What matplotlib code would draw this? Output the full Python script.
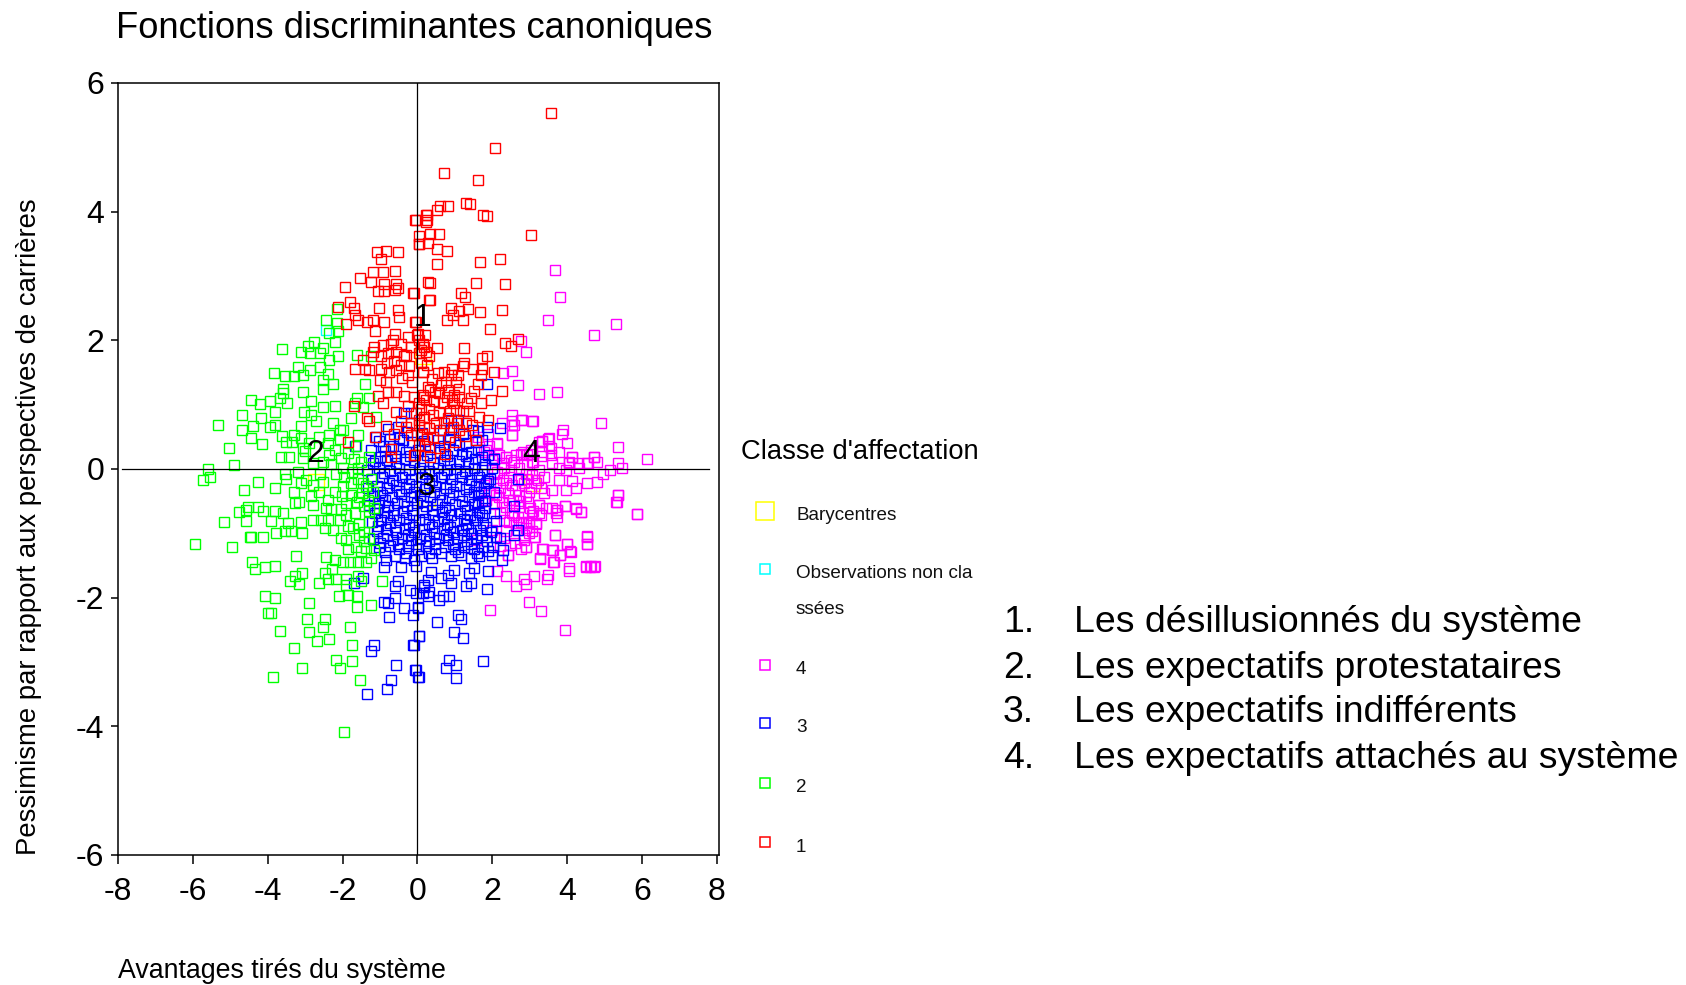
import matplotlib
matplotlib.use("Agg")
import matplotlib.pyplot as plt
from matplotlib.lines import Line2D

plt.rcParams['font.family'] = ['Liberation Sans', 'DejaVu Sans']
plt.rcParams['axes.unicode_minus'] = False

TITLE = "Fonctions discriminantes canoniques"
XLABEL = "Avantages tirés du système"
YLABEL = "Pessimisme par rapport aux perspectives de carrières"
LEGEND_TITLE = "Classe d'affectation"
TYPOLOGY = ["Les désillusionnés du système", "Les expectatifs protestataires",
            "Les expectatifs indifférents", "Les expectatifs attachés au système"]
X_TICKS = [-8, -6, -4, -2, 0, 2, 4, 6, 8]
Y_TICKS = [-6, -4, -2, 0, 2, 4, 6]

barycentres = [(0.14, 1.75), (-2.7, -0.2), (0.25, -0.45), (3.07, -0.22)]
unclassified = [(-2.44, 2.16)]
centroid_labels = [("1", 0.15, 2.35), ("2", -2.72, 0.24), ("3", 0.26, -0.28), ("4", 3.05, 0.23)]

class1 = [
(3.58,5.53),(2.08,4.99),(.71,4.60),(1.62,4.49),(1.30,4.14),(1.40,4.12),(.81,4.09),(.60,4.09),(.52,4.02),(.26,3.95),
(.26,3.87),(-.04,3.87),(1.76,3.95),(1.85,3.93),(3.04,3.64),(.59,3.66),(.34,3.66),(.04,3.62),(.29,3.52),(.04,3.50),
(.52,3.42),(.80,3.39),(.52,3.19),(1.67,3.21),(2.21,3.26),(.34,2.89),(1.57,2.89),(2.35,2.87),(-.08,2.73),(1.16,2.73),
(1.26,2.68),(.34,2.63),(.90,2.51),(1.36,2.49),(1.12,2.45),(.94,2.39),(.8,2.31),(1.21,2.31),(1.67,2.44),(2.26,2.47),
(-.04,2.28),(1.94,2.18),(2.35,1.96),(2.68,2.02),(2.49,1.91),(1.25,1.88),(.52,1.88),(.21,2.09),(0,2.09),(.04,2.0),
(.19,1.90),(.23,1.82),(.32,1.75),(.05,1.80),(1.85,1.75),(1.74,1.72),(1.25,1.64),(1.21,1.60),(.92,1.55),(.70,1.51),
(.14,1.51),(1.48,1.56),(1.74,1.55),(2.05,1.51),(1.70,1.46),(1.08,1.46),(.9,1.46),(.76,1.36),(1.03,1.36),(1.61,1.32),
(1.12,1.25),(2.26,1.22),(.34,1.23),(.14,1.15),(.59,1.18),(.81,1.23),(.99,1.15),(1.12,1.12),(1.43,1.11),(1.98,1.08),
(1.71,1.03),(.05,1.02),(.32,.94),(.68,1.02),(.99,1.02),(1.03,.92),(1.39,.90),(1.21,.90),(1.65,.81),(1.88,.76),
(.81,.79),(.41,.84),(.19,.81),(.50,.71),(.32,.63),(.05,.68),(1.12,.61),(.26,.46),(0,.53),(1.56,.45),(.57,.33),
(.74,.23),(-.08,.21),(.23,3.95),(-.06,3.87),(.23,3.84),(.04,3.50),
(-1.07,3.37),(-.84,3.39),(-.52,3.37),(-.98,3.26),(-.61,3.08),(-.92,3.06),(-1.19,3.06),(-1.52,2.97),(-1.94,2.83),
(-1.23,2.91),(-.88,2.88),(-.57,2.88),(-.52,2.81),(-.88,2.76),(-1.06,2.76),(-.61,2.78),(-.11,2.73),(.28,2.90),(.32,2.63),
(-2.12,2.52),(-1.80,2.60),(-1.70,2.5),(-1.68,2.39),(-1.90,2.25),(-1.59,2.31),(-1.03,2.51),(-.52,2.47),(-.48,2.36),
(-1.35,2.28),(-1.19,2.31),(-.88,2.28),(-1.12,2.15),(-.06,2.28),(-.61,2.10),(-.66,2.0),(-.26,2.05),(.01,2.10),
(-1.15,1.90),(-.92,1.92),(-.70,1.95),(-1.19,1.82),(-1.46,1.70),(-.97,1.75),(-.57,1.82),(-.30,1.77),(-.17,1.90),
(.10,1.85),(.14,1.95),(-.35,1.75),(-1.68,1.56),(-1.41,1.55),(-1.28,1.54),(-.97,1.56),(-.75,1.51),(-.26,1.46),
(.14,1.51),(.10,1.64),(-1.01,1.38),(-.84,1.36),(-.57,1.54),(-.79,1.20),(-1.06,1.13),(-.57,1.20),(-.35,1.13),
(-.08,1.12),(.14,1.12),(-.93,1.03),(.10,.94),(-.57,.89),(-1.70,.98),(-1.35,.80),(-1.28,.75),(-.84,.67),(-.30,.65),
(.05,.76),(-.17,.53),(-1.12,.49),(-.70,.31),(-1.85,.42),(-.06,.21),(-.70,.19),(-.04,.87),(.23,1.07),(.19,.66),
(-.45,1.62),(-.82,1.65),(-.15,1.35),(.38,1.40),(.55,1.50),(.62,1.30),(.45,1.05),(.88,.90),(.60,.60),(.85,.50),
(.95,.66),(-.25,.98),(.20,.35),(.42,.50),(1.30,.72),(1.45,.68),(-.45,.75),(-.62,.55),(.05,.38),
(.58,.88),(.72,.72),(.28,1.28),(.48,1.20),(.92,1.08),(1.32,1.02),(1.52,1.22),(-.18,.72),(.12,.55),(.78,1.12),
(1.05,.72),(1.28,.52),(.35,.18),(1.0,.42),(-.42,1.42),(-.62,1.68),(-.22,1.60),(.25,1.62),(-.78,1.8),(-.45,1.95),
]

class2 = [
(-2.14,2.48),(-2.45,2.31),(-2.35,2.11),(-2.14,2.27),(-2.12,2.15),(-2.21,1.98),(-3.63,1.86),(-3.12,1.82),(-2.88,1.81),
(-2.92,1.91),(-2.77,1.97),(-2.52,1.88),(-2.61,1.80),(-2.35,1.69),(-2.12,1.75),(-1.62,1.77),(-1.24,1.76),(-3.19,1.59),
(-3.82,1.50),(-3.54,1.45),(-3.29,1.45),(-3.06,1.46),(-2.88,1.54),(-2.61,1.59),(-2.39,1.48),(-2.52,1.38),(-2.26,1.32),
(-2.52,1.25),(-3.06,1.20),(-3.59,1.24),(-3.59,1.18),(-3.68,1.11),(-1.39,1.32),(-4.44,1.08),(-4.21,1.01),(-3.95,1.05),
(-3.48,1.03),(-2.84,1.05),(-1.62,1.11),(-1.28,1.10),(-2.52,.97),(-2.19,.98),(-1.68,1.03),(-1.46,.97),(-4.68,.84),
(-3.80,.89),(-3.03,.89),(-2.84,.84),(-2.70,.75),(-4.17,.79),(-1.77,.80),(-2.26,.71),(-1.10,.81),(-5.32,.68),(-4.68,.61),
(-4.38,.67),(-3.81,.68),(-3.95,.66),(-3.10,.67),(-2.08,.61),(-1.99,.61),(-1.59,.53),(-2.35,.53),(-4.44,.48),(-4.15,.39),
(-5.04,.33),(-3.63,.51),(-3.29,.53),(-3.50,.42),(-3.34,.42),(-3.10,.48),(-3.06,.32),(-2.63,.49),(-2.39,.40),(-2.08,.46),
(-1.64,.35),(-3.65,.18),(-3.44,.18),(-4.91,.06),(-5.59,0),(-3.06,.17),(-2.79,.09),(-2.35,.22),(-2.04,.17),(-1.50,.11),
(-1.28,.19),(-2.52,.11),(-3.0,.28),(-2.9,.40),(-2.2,.30),(-1.85,.25),(-1.7,.15),
(-5.72,-.17),(-5.55,-.12),(-4.27,-.20),(-4.64,-.33),(-3.81,-.30),(-3.55,-.07),(-3.50,-.15),(-3.19,-.04),(-3.10,-.22),
(-2.97,-.17),(-2.61,-.07),(-2.52,-.20),(-2.79,-.25),(-2.17,-.07),(-1.95,-.12),(-1.59,-.15),(-2.21,-.35),(-1.99,-.27),
(-1.77,-.40),(-1.37,-.27),(-1.19,-.35),(-1.55,-.43),(-1.90,-.53),(-2.79,-.56),(-3.15,-.51),(-3.28,-.53),(-3.59,-.69),
(-3.81,-.65),(-4.12,-.66),(-4.26,-.59),(-4.52,-.59),(-4.57,-.64),(-4.76,-.67),(-4.59,-.81),(-5.17,-.83),(-3.90,-.81),
(-3.45,-.84),(-3.10,-.83),(-2.79,-.80),(-2.57,-.79),(-2.39,-.79),(-2.08,-.79),(-2.48,-.92),(-2.26,-.95),(-3.77,-.99),
(-3.55,-.96),(-3.37,-.97),(-3.08,-.99),(-4.12,-1.05),(-4.48,-1.06),(-4.44,-1.06),(-5.95,-1.16),(-4.95,-1.21),(-2.04,-1.08),
(-1.90,-1.10),(-1.55,-1.03),(-1.30,-.82),(-1.15,-.61),(-1.28,-1.08),(-1.64,-1.22),(-1.86,-1.25),(-1.37,-1.23),(-1.15,-1.26),
(-3.25,-1.35),(-2.44,-1.37),(-2.21,-1.41),(-1.99,-1.44),(-1.81,-1.44),(-1.59,-1.44),(-1.37,-1.44),(-4.41,-1.45),(-4.35,-1.55),
(-4.08,-1.53),(-3.81,-1.50),(-2.28,-1.55),(-2.48,-1.61),(-3.08,-1.61),(-3.28,-1.66),(-3.41,-1.74),(-3.17,-1.79),(-2.63,-1.77),
(-2.39,-1.71),(-2.17,-1.71),(-1.90,-1.71),(-1.59,-1.66),(-1.50,-1.74),(-.94,-1.74),(-1.90,-1.80),(-4.08,-1.98),(-3.81,-2.0),
(-2.90,-2.09),(-2.10,-1.98),(-1.86,-1.96),(-1.62,-1.98),(-1.62,-2.14),(-1.25,-2.11),(-3.99,-2.24),(-3.90,-2.24),(-2.94,-2.33),
(-2.48,-2.33),(-2.52,-2.46),(-2.90,-2.54),(-3.68,-2.52),(-1.81,-2.46),(-2.35,-2.64),(-2.68,-2.67),(-3.31,-2.78),(-1.76,-2.73),
(-2.17,-2.97),(-1.76,-2.99),(-2.08,-3.10),(-3.08,-3.10),(-3.86,-3.23),(-1.53,-3.28),(-1.95,-4.09),
(-2.85,-.42),(-2.4,-.48),(-2.05,-.62),(-1.68,-.68),(-1.42,-.58),(-1.25,-.15),(-1.75,-.05),(-2.3,-.62),(-1.55,-.85),(-1.85,-.88),
(-1.45,-.22),(-1.32,-.48),(-1.48,-.38),(-1.62,-.52),(-1.28,-.65),(-1.78,-.22),(-2.02,-.42),(-1.92,-.72),(-1.72,-.92),(-1.42,-.98),
(-1.6,.02),(-2.0,.02),(-2.3,.08),(-3.3,-.35),(-2.62,-.35),(-2.45,-.6),(-1.42,-1.12),(-1.25,-1.38),(-1.5,-1.28),
]

class3 = [
(1.86,1.32),(.9,.76),(1.08,.76),(.9,.6),(1.48,.61),(1.86,.66),(2.21,.63),(2.04,.16),(1.56,.42),(.72,.35),(1.12,.37),(1.43,.27),
(-.35,.87),(-.17,.87),(-.52,.66),(-1.1,.5),(-1.68,.35),(-.39,.45),(-.66,.35),(-.92,.35),(-1.01,.19),(-1.19,.09),
(-1.35,-3.50),(-.80,-3.42),(-.70,-3.28),(-.57,-3.04),(-.06,-3.12),(.03,-3.23),(-1.25,-2.83),(-1.17,-2.73),(-.11,-2.73),
(.03,-2.59),(-.75,-2.30),(-.11,-2.27),(-.35,-2.16),(.01,-2.16),(-.88,-2.06),(-.79,-2.09),(-.61,-2.0),(-.21,-1.88),(-.04,-1.92),
(-.61,-1.82),(-.51,-1.74),(-1.46,-1.69),(-1.70,-1.77),(-.44,-1.53),(-.88,-1.53),(-.84,-1.41),(-.08,-1.41),(-.04,-1.51),
(.19,-1.83),(.14,-1.93),(.28,-1.73),
(1.76,-2.99),(.85,-2.97),(1.03,-3.04),(.76,-3.10),(1.03,-3.25),(-.04,-3.12),(.01,-3.23),(1.21,-2.62),(.99,-2.54),(.52,-2.38),
(1.08,-2.27),(1.16,-2.33),(.03,-2.59),(-.08,-2.73),(.85,-1.97),(.59,-2.03),(.68,-1.98),(.28,-1.98),(1.86,-1.87),(1.30,-1.82),
(1.43,-1.77),(.90,-1.77),(.36,-1.60),(.81,-1.64),(1.39,-1.61),(1.52,-1.54),(1.89,-1.58),(.99,-1.57),(2.25,-1.41),(.19,-1.80),
(.32,-1.91),(.01,-2.14),(.63,-1.70),(2.68,-.95),(2.59,-1.03),(2.30,-1.26),(2.10,-1.05),(2.21,-1.08),(2.59,-.57),(2.68,-.15),
(1.95,-.15),(2.04,-.36),(1.81,-.49),(1.61,-.53),(2.05,-.69),(2.10,-.81),(1.74,-.72),(1.70,-.35),
# dense core, row by row
(-.78,.62),(-.28,.58),(.12,.56),(.68,.61),(1.22,.55),(1.62,.59),
(-1.02,.44),(-.72,.46),(-.48,.48),(-.14,.42),(.18,.44),(.56,.45),(.88,.47),(1.3,.41),(1.72,.45),
(-1.25,.3),(-.86,.28),(-.5,.31),(-.3,.27),(.02,.29),(.34,.31),(.6,.26),(.95,.3),(1.2,.24),(1.62,.3),(1.9,.22),
(-1.12,.12),(-.8,.14),(-.58,.1),(-.34,.15),(-.1,.11),(.16,.13),(.42,.1),(.7,.14),(.88,.09),(1.12,.13),(1.36,.1),(1.55,.15),(1.8,.08),
(-1.34,-.02),(-1.02,.01),(-.74,-.03),(-.48,.02),(-.22,-.02),(.08,.01),(.3,-.03),(.55,.02),(.8,-.02),(1.02,.0),(1.28,-.03),(1.5,.01),(1.72,-.02),(2.0,.02),
(-1.2,-.15),(-.94,-.12),(-.66,-.17),(-.4,-.13),(-.16,-.16),(.12,-.12),(.4,-.17),(.62,-.13),(.92,-.16),(1.18,-.12),(1.44,-.17),(1.66,-.13),(1.9,-.18),
(-1.32,-.29),(-1.08,-.26),(-.82,-.3),(-.56,-.25),(-.3,-.3),(-.05,-.27),(.2,-.31),(.48,-.26),(.76,-.3),(1.02,-.27),(1.3,-.31),(1.56,-.26),(1.78,-.3),
(-1.16,-.42),(-.94,-.4),(-.68,-.44),(-.44,-.39),(-.18,-.44),(.06,-.4),(.34,-.44),(.6,-.39),(.84,-.45),(1.12,-.41),(1.38,-.44),(1.62,-.41),
(-1.28,-.56),(-1.02,-.53),(-.78,-.57),(-.54,-.53),(-.28,-.58),(-.02,-.53),(.24,-.58),(.52,-.54),(.74,-.59),(1.0,-.54),(1.26,-.58),(1.5,-.55),(1.82,-.6),
(-1.14,-.69),(-.9,-.67),(-.64,-.71),(-.38,-.67),(-.12,-.71),(.14,-.67),(.42,-.72),(.66,-.67),(.9,-.72),(1.14,-.68),(1.4,-.72),(1.66,-.67),
(-1.22,-.83),(-.98,-.8),(-.74,-.84),(-.48,-.8),(-.22,-.85),(.04,-.8),(.3,-.85),(.56,-.81),(.8,-.86),(1.06,-.81),(1.3,-.85),(1.54,-.8),(1.76,-.84),
(-1.08,-.96),(-.84,-.94),(-.58,-.98),(-.32,-.94),(-.08,-.98),(.18,-.94),(.44,-.99),(.7,-.94),(.94,-.98),(1.18,-.95),(1.44,-.99),(1.68,-.95),(1.96,-.98),
(-1.18,-1.09),(-.92,-1.07),(-.66,-1.11),(-.42,-1.07),(-.18,-1.11),(.06,-1.07),(.32,-1.12),(.58,-1.08),(.82,-1.11),(1.06,-1.08),(1.32,-1.12),(1.56,-1.08),(1.86,-1.12),
(-1.02,-1.22),(-.74,-1.2),(-.5,-1.24),(-.24,-1.2),(.02,-1.24),(.22,-1.2),(.48,-1.25),(.74,-1.21),(1.0,-1.25),(1.24,-1.21),(1.5,-1.24),(1.72,-1.22),(2.02,-1.22),
(-.6,-1.36),(-.34,-1.38),(.1,-1.35),(.4,-1.38),(.9,-1.36),(1.16,-1.34),(1.42,-1.38),(1.66,-1.35),(2.0,-1.33),
# second pass through the core
(-.6,.2),(-.2,.2),(.26,.22),(.78,.2),(1.3,.2),(1.72,.18),(-.9,-.06),(-.34,-.07),(.2,-.08),(.7,-.07),(1.14,-.06),(1.6,-.07),
(-.76,-.22),(-.22,-.23),(.3,-.22),(.86,-.23),(1.38,-.24),(1.84,-.22),(-1.0,-.35),(-.5,-.34),(-.1,-.36),(.44,-.35),(.96,-.36),(1.5,-.35),
(-.86,-.48),(-.36,-.49),(.16,-.5),(.66,-.48),(1.2,-.5),(1.72,-.5),(-1.08,-.62),(-.62,-.63),(-.14,-.64),(.38,-.63),(.84,-.64),(1.32,-.63),
(-.82,-.75),(-.3,-.76),(.2,-.77),(.72,-.76),(1.24,-.77),(1.6,-.75),(-1.04,-.89),(-.6,-.9),(-.12,-.9),(.38,-.9),(.88,-.9),(1.36,-.91),(1.84,-.9),
(-.8,-1.02),(-.26,-1.03),(.24,-1.03),(.76,-1.03),(1.24,-1.02),(1.74,-1.03),(-1.0,-1.15),(-.52,-1.16),(-.04,-1.16),(.46,-1.16),(.96,-1.17),(1.44,-1.16),
(-.86,-1.29),(-.3,-1.3),(.3,-1.3),(.64,-1.3),(1.08,-1.29),(1.58,-1.3),(1.9,-1.28),
]

class4 = [
(3.68,3.10),(3.81,2.68),(3.49,2.31),(4.73,2.09),(5.32,2.25),(2.76,1.99),(2.90,1.82),(2.54,1.53),(2.30,1.49),(2.70,1.30),
(3.26,1.16),(3.72,1.19),(2.54,.84),(2.25,.71),(2.54,.75),(2.59,.68),(2.79,.76),(3.08,.74),(4.91,.71),(2.54,.53),(1.61,.50),
(1.88,.55),(2.14,.39),(3.34,.44),(3.49,.46),(3.90,.61),(3.86,.54),(3.99,.41),(3.56,.32),(5.36,.34),(2.76,.24),(3.34,.20),
(2.36,.19),(1.83,.30),(4.12,.18),(4.73,.18),(6.14,.15),(5.37,.10),(4.81,.11),(4.54,.09),(4.28,.09),(4.05,.11),(2.99,.24),
(3.08,.11),(2.59,.11),(1.99,.14),(3.56,.22),
(5.48,.01),(5.16,-.02),(4.97,-.08),(4.81,-.20),(4.54,-.22),(4.23,-.30),(4.14,-.19),(3.96,-.33),(3.61,-.33),(3.30,-.30),(3.03,-.30),
(5.34,-.52),(5.37,-.41),(5.87,-.70),(4.36,-.67),(4.23,-.61),(3.95,-.57),(3.70,-.69),(3.74,-.63),(3.61,-.61),(3.25,-.56),(3.25,-.69),
(3.07,-.72),(2.99,-.84),(3.16,-.85),(2.81,-.84),(3.68,-1.03),(3.14,-1.05),(2.99,-1.0),(4.54,-1.04),(4.54,-1.16),(3.99,-1.16),
(4.10,-1.29),(3.81,-1.34),(3.27,-1.40),(3.63,-1.26),(3.36,-1.25),(3.63,-1.45),(2.90,-1.22),(2.41,-1.34),(2.32,-1.08),(4.04,-1.54),
(4.50,-1.50),(4.63,-1.50),(4.75,-1.50),
(2.54,.68),(2.76,.76),(3.07,.74),(2.54,.53),(2.14,.40),(3.52,.48),(3.34,.44),(3.79,.27),(2.81,.27),(3.03,.30),(3.34,.27),(4.14,.19),
(4.72,.18),(4.56,.09),(4.32,.01),(4.05,.09),(3.79,.01),(3.61,.09),(3.07,.11),(2.50,.14),(2.28,.09),(1.92,.35),(1.79,.27),(2.36,.19),
(2.72,.01),(3.25,-.02),(3.96,-.02),(2.90,-.07),(2.54,-.25),(2.28,-.17),(1.79,-.25),(2.45,-.12),(2.85,-.22),(3.21,-.17),(3.79,-.17),
(2.41,-.38),(2.10,-.22),(2.72,-.40),(2.99,-.35),(2.36,-.59),(2.72,-.59),(2.54,-.69),(2.32,-.79),(2.81,-.69),(2.19,-.43),(1.92,-.38),
(1.83,-.48),(2.90,-.92),(3.07,-.97),(2.85,-1.03),(2.63,-.84),(2.45,-.82),(2.36,-.97),(1.57,-1.10),(2.94,-.15),(3.07,-.09),(2.76,-.17),
(3.16,-.22),(3.39,-.12),(2.14,-.04),(2.32,.01),(2.05,.17),(2.63,.22),(2.94,.22),(3.52,.35),(3.25,.42),
(1.95,-2.19),(2.99,-2.06),(3.31,-2.20),(3.95,-2.51),(2.36,-1.66),(2.64,-1.82),(2.85,-1.71),(2.90,-1.79),(3.12,-1.66),(3.49,-1.64),
(3.46,-1.71),(4.04,-1.58),(4.50,-1.53),(4.61,-1.53),(4.72,-1.53),(3.27,-1.39),(3.64,-1.44),(3.81,-1.34),(4.08,-1.28),(3.61,-1.26),
(3.34,-1.25),(3.99,-1.16),(4.54,-1.05),(4.54,-1.16),(3.68,-1.02),(2.41,-1.34),(2.90,-1.21),(3.12,-1.05),(2.85,-1.10),(2.14,-1.59),
(5.87,-.70),(5.32,-.52),(5.37,-.40),(4.36,-.67),(4.23,-.62),(3.95,-.57),(3.73,-.64),(3.73,-.74),(3.25,-.56),(3.30,-.72),(3.08,-.66),
(2.99,-.82),(3.16,-.84),(2.76,-.82),(2.59,-.72),(2.2,-.68),(2.45,-.48),(2.05,-.55),(2.0,-.95),(2.2,-1.2),(2.62,-1.15),
(2.2,-.3),(2.38,-.22),(2.6,-.32),(2.75,-.5),(2.55,-.48),(2.25,-.52),(2.65,-.95),(2.78,-1.25),(2.48,-1.18),(2.05,-.08),(2.18,.22),
(2.5,-.02),(2.92,.08),(3.38,-.38),(2.1,-.4),(3.45,-.6),(2.95,-.52),(2.7,-.75),(3.02,-.6),(2.9,-.42),
]

W, H = 1686, 985
fig = plt.figure(figsize=(W / 100, H / 100), dpi=100)
L, R, T, B = 118, 719, 83, 855
ax = fig.add_axes([L / W, 1 - B / H, (R - L) / W, (B - T) / H])
ax.set_xlim(-8, 8.06)
ax.set_ylim(-6, 6)

MS, MEW = 7.5, 1.0


def draw(points, color, size=MS, z=2):
    ax.plot([p[0] for p in points], [p[1] for p in points], ls='none', marker='s',
            mfc='none', mec=color, ms=size, mew=MEW, zorder=z, clip_on=False)


draw(barycentres, '#ffff00', 12, 1.5)
draw(unclassified, '#00ffff', MS, 1.6)
draw(class4, '#ff00ff', MS, 2)
draw(class3, '#0000ff', MS, 2.1)
draw(class2, '#00ff00', MS, 2.2)
draw(class1, '#ff0000', MS, 2.3)

ax.axvline(0, color='black', lw=0.9, zorder=3)
ax.plot([-7.89, 7.80], [0, 0], color='black', lw=0.9, zorder=3)

for label, x, y in centroid_labels:
    ax.text(x, y, label, fontsize=23, ha='center', va='center', color='black', zorder=4)

ax.set_xticks(X_TICKS)
ax.set_yticks(Y_TICKS)
ax.tick_params(axis='x', length=6.5, width=1.1, labelsize=23, pad=9)
ax.tick_params(axis='y', length=5, width=1.1, labelsize=23, pad=5)
for s in ax.spines.values():
    s.set_linewidth(1.1)


def ftext(px, py, s, **kw):
    return fig.text(px / W, 1 - py / H, s, **kw)


ftext(116, 28, TITLE, fontsize=26.2, va='center', ha='left')
ftext(118, 971, XLABEL, fontsize=19.3, va='center', ha='left')
ftext(29, 527, YLABEL, fontsize=19.8, va='center', ha='center', rotation=90)

ftext(741, 452, LEGEND_TITLE, fontsize=19.7, va='center', ha='left')
legend_rows = [("Barycentres", '#ffff00', 511, 516, 12.5),
               ("Observations non cla", '#00ffff', 569, 574, 7.5),
               ("4", '#ff00ff', 665, 670, 7.5),
               ("3", '#0000ff', 723, 728, 7.5),
               ("2", '#00ff00', 783, 788, 7.5),
               ("1", '#ff0000', 842, 847, 7.5)]
for label, color, my, ty, size in legend_rows:
    fig.add_artist(Line2D([765 / W], [1 - my / H], transform=fig.transFigure, ls='none', marker='s',
                          mfc='none', mec=color, ms=size, mew=1.1))
    ftext(796, ty, label, fontsize=13.6, va='center', ha='left', color='#111111')
ftext(796, 610, "ssées", fontsize=13.6, va='center', ha='left', color='#111111')

for i, (s, y) in enumerate(zip(TYPOLOGY, [623, 668, 713, 758])):
    ftext(1003, y, f"{i + 1}.", fontsize=26.9, va='center', ha='left')
    ftext(1074, y, s, fontsize=26.9, va='center', ha='left')

fig.savefig('out.png', dpi=100)
